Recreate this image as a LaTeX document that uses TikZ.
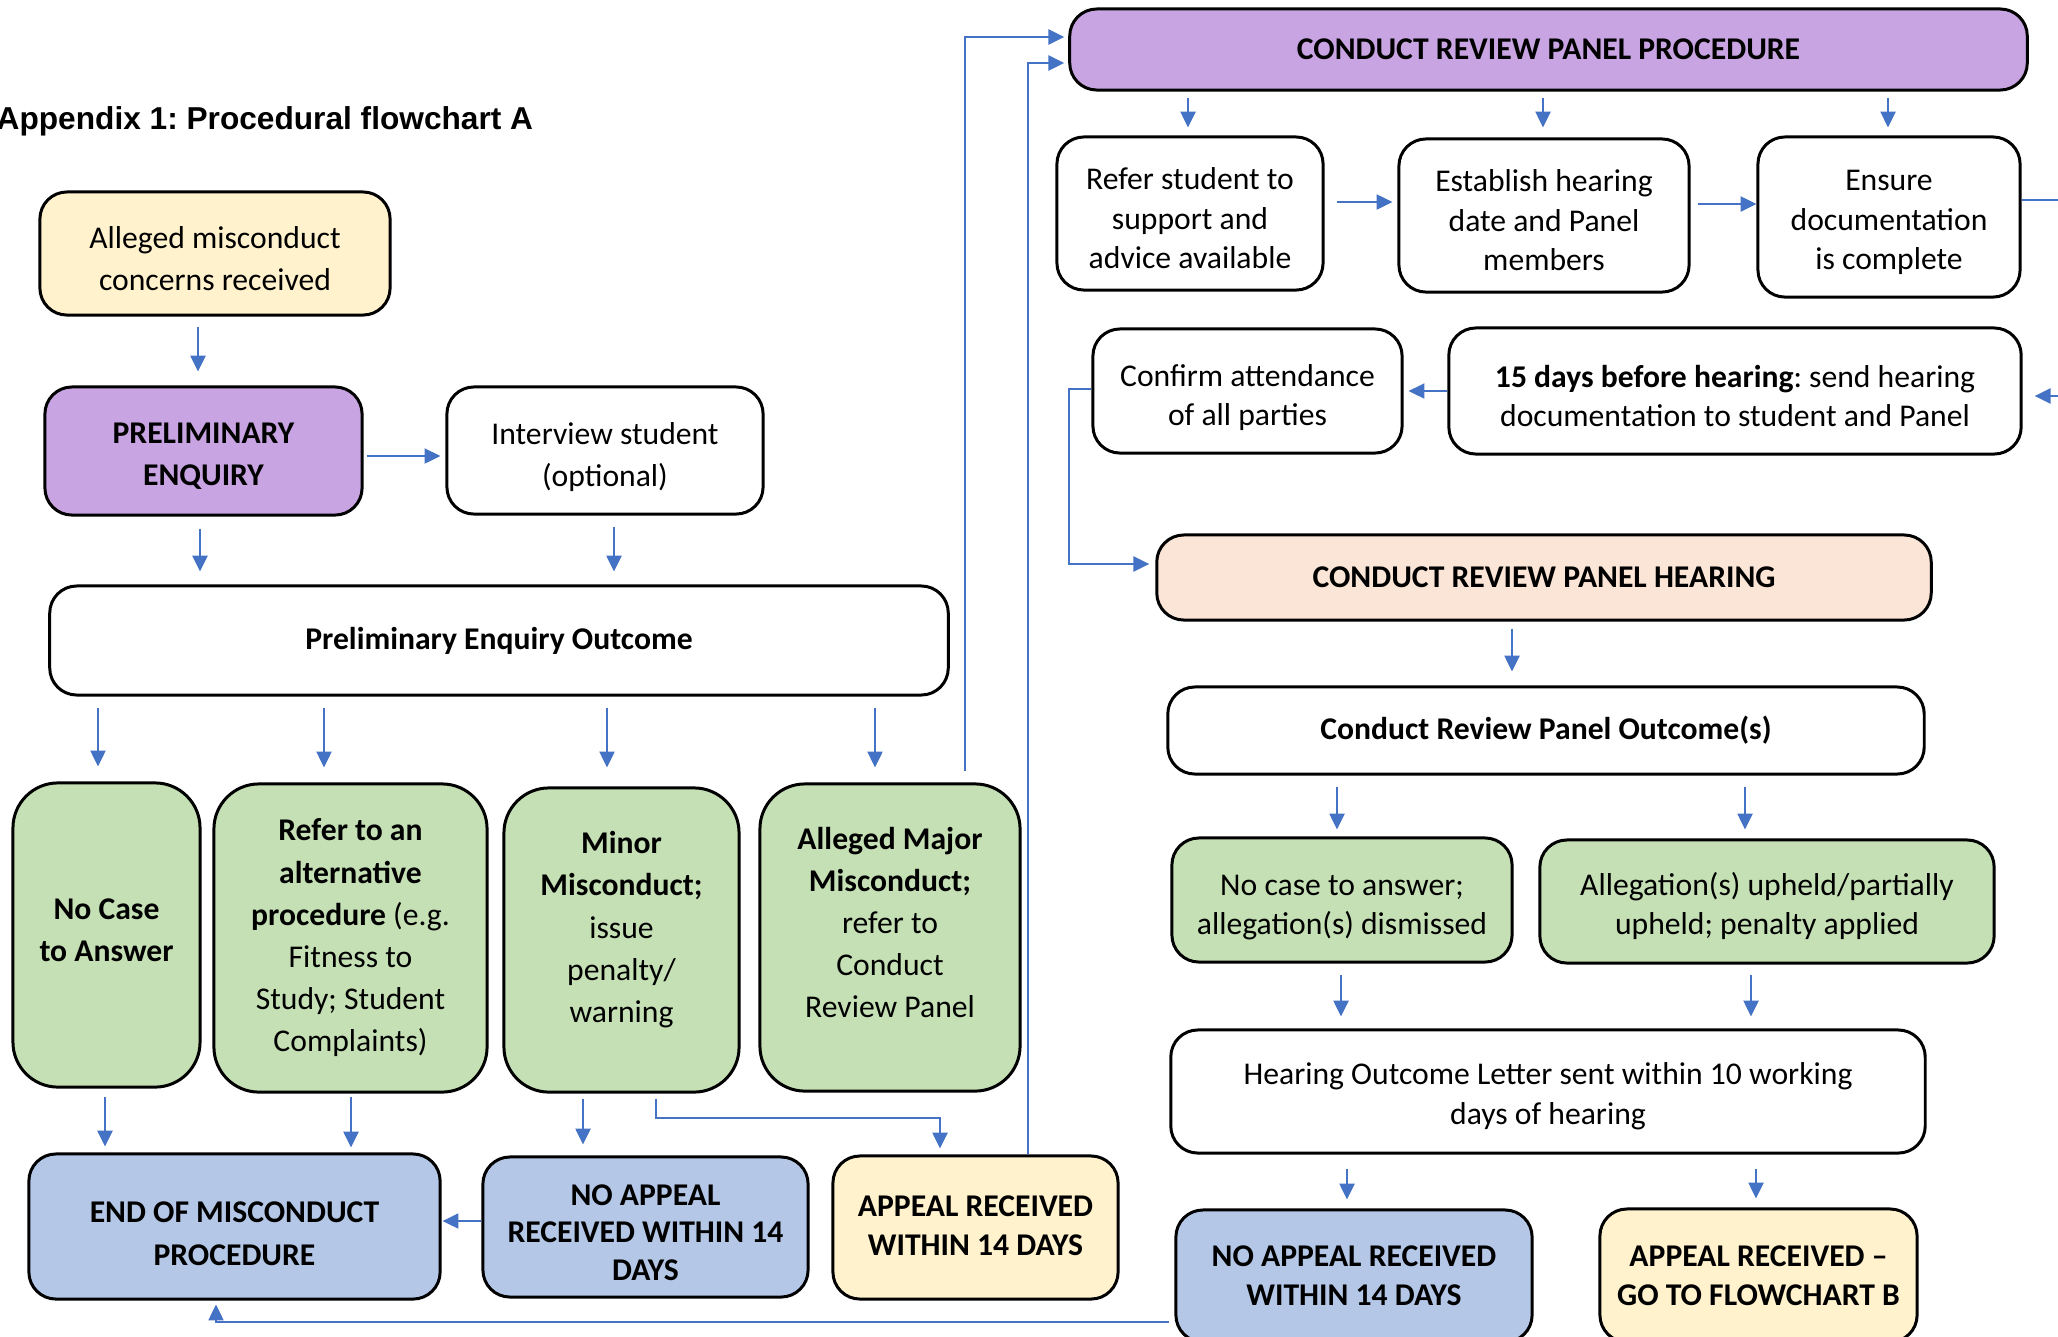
\documentclass[tikz,border=0pt]{standalone}
\usepackage{fontspec}
\setmainfont{Carlito}
\newfontfamily\titlefont{Liberation Sans}
\usetikzlibrary{arrows.meta}
\definecolor{cyel}{HTML}{FFF2CC}
\definecolor{cpur}{HTML}{C8A4E2}
\definecolor{cgrn}{HTML}{C5E0B4}
\definecolor{cblu}{HTML}{B4C7E7}
\definecolor{cpch}{HTML}{FBE5D6}
\definecolor{carr}{HTML}{4472C4}
\newcommand\tu{\rule{0pt}{9pt}}
\newcommand\dn[1]{\rule[-#1]{0pt}{0pt}}
\frenchspacing
\begin{document}
\begin{tikzpicture}[x=0.01cm,y=-0.01cm,
  bx/.style={draw=black, line width=0.85pt, rounded corners=0.27cm, align=center, inner sep=0pt, fill=white,
    font=\fontsize{9}{12}\selectfont},
  rt/.style={font=\fontsize{9}{11.2}\selectfont},
  tall/.style={rounded corners=0.45cm},
  bf/.style={font=\fontsize{9}{12}\selectfont\bfseries},
  arr/.style={draw=carr, line width=0.5pt, -{Triangle[length=4.5pt,width=4.3pt]}},
  gap/.style 2 args={shorten <=#1*0.01cm, shorten >=#2*0.01cm}
]
\useasboundingbox (0,0) rectangle (2058,1336);

% title
\node[anchor=west, inner sep=0pt, font=\titlefont\bfseries\fontsize{9}{11}\selectfont] (title) at (-4,121) {Appendix 1: Procedural flowchart A};

% left column
\node[bx, fill=cyel, minimum width=3.50cm, minimum height=1.23cm] (al) at (215,253.5) {\tu Alleged misconduct\\concerns received};
\node[bx, bf, fill=cpur, minimum width=3.17cm, minimum height=1.28cm] (pe) at (203.5,451) {\tu PRELIMINARY\\ENQUIRY};
\node[bx, minimum width=3.16cm, minimum height=1.27cm] (iv) at (605,450.5) {\rule{0pt}{10pt}Interview student\\(optional)};
\node[bx, bf, minimum width=8.98cm, minimum height=1.09cm] (peo) at (499,640.5) {Preliminary Enquiry Outcome};

\node[bx, tall, bf, fill=cgrn, minimum width=1.87cm, minimum height=3.04cm] (nc) at (106.5,935) {No Case\\to Answer\dn{3pt}};
\node[bx, tall, fill=cgrn, minimum width=2.73cm, minimum height=3.08cm] (ra) at (350.5,938) {\textbf{Refer to an}\\\textbf{alternative}\\\textbf{procedure} (e.g.\\Fitness to\\Study; Student\\Complaints)};
\node[bx, tall, fill=cgrn, minimum width=2.35cm, minimum height=3.04cm] (mm) at (621.5,940) {\textbf{Minor}\\\textbf{Misconduct;}\\issue\\penalty/\\warning\dn{7.4pt}};
\node[bx, tall, fill=cgrn, minimum width=2.60cm, minimum height=3.07cm] (am) at (890,937.5) {\textbf{Alleged Major}\\\textbf{Misconduct;}\\refer to\\Conduct\\Review Panel\dn{8.6pt}};

\node[bx, bf, fill=cblu, minimum width=4.11cm, minimum height=1.45cm] (end) at (234.5,1226.5) {\rule{0pt}{10pt}END OF MISCONDUCT\\PROCEDURE};
\node[bx, fill=cblu, font=\fontsize{9}{10.6}\selectfont\bfseries, minimum width=3.25cm, minimum height=1.40cm] (na) at (645.5,1227) {\tu NO APPEAL\\RECEIVED WITHIN 14\\DAYS};
\node[bx, fill=cyel, font=\fontsize{9}{11.2}\selectfont\bfseries, minimum width=2.85cm, minimum height=1.43cm] (ar) at (975.5,1227.5) {APPEAL RECEIVED\\WITHIN 14 DAYS\dn{1pt}};

% right column
\node[bx, fill=cpur, font=\fontsize{9}{11.2}\selectfont\bfseries, minimum width=9.57cm, minimum height=0.81cm] (crp) at (1548.5,49.5) {CONDUCT REVIEW PANEL PROCEDURE};
\node[bx, rt, minimum width=2.66cm, minimum height=1.53cm] (rs) at (1190,213.5) {\tu Refer student to\\support and\\advice available};
\node[bx, rt, minimum width=2.90cm, minimum height=1.53cm] (eh) at (1544,215.5) {\tu Establish hearing\\date and Panel\\members};
\node[bx, rt, minimum width=2.62cm, minimum height=1.60cm] (ed) at (1889,217) {\tu Ensure\\documentation\\is complete};
\node[bx, rt, minimum width=5.72cm, minimum height=1.26cm] (fd) at (1735,391) {\tu\textbf{15 days before hearing}: send hearing\\documentation to student and Panel};
\node[bx, rt, minimum width=3.09cm, minimum height=1.24cm] (ca) at (1247.5,391) {\rule{0pt}{10pt}Confirm attendance\\of all parties};
\node[bx, fill=cpch, font=\fontsize{9}{11.2}\selectfont\bfseries, minimum width=7.74cm, minimum height=0.85cm] (crh) at (1544,577.5) {CONDUCT REVIEW PANEL HEARING};
\node[bx, font=\fontsize{9}{11.2}\selectfont\bfseries, minimum width=7.56cm, minimum height=0.87cm] (cro) at (1546,730.5) {Conduct Review Panel Outcome(s)};
\node[bx, rt, fill=cgrn, minimum width=3.40cm, minimum height=1.24cm] (ncd) at (1342,900) {\rule{0pt}{10pt}No case to answer;\\allegation(s) dismissed};
\node[bx, rt, fill=cgrn, minimum width=4.54cm, minimum height=1.23cm] (au) at (1767,901.5) {\tu Allegation(s) upheld/partially\\upheld; penalty applied};
\node[bx, rt, minimum width=7.54cm, minimum height=1.23cm] (hol) at (1548,1091.5) {\tu Hearing Outcome Letter sent within 10 working\\days of hearing};
\node[bx, fill=cblu, font=\fontsize{9}{11.2}\selectfont\bfseries, minimum width=3.56cm, minimum height=1.32cm] (nar) at (1354,1276) {NO APPEAL RECEIVED\\WITHIN 14 DAYS};
\node[bx, fill=cyel, font=\fontsize{9}{11.2}\selectfont\bfseries, minimum width=3.17cm, minimum height=1.33cm] (arb) at (1758.5,1275.5) {APPEAL RECEIVED --\\GO TO FLOWCHART B};

% connectors left
\draw[arr, gap={10}{14}] (al.south -| 198,0) -- (pe.north -| 198,0);
\draw[arr, gap={3}{5}] (pe.east |- 0,456) -- (iv.west |- 0,456);
\draw[arr, gap={12}{13}] (pe.south -| 200,0) -- (peo.north -| 200,0);
\draw[arr, gap={11}{13}] (iv.south -| 614,0) -- (peo.north -| 614,0);
\draw[arr, gap={11}{15}] (peo.south -| 98,0) -- (nc.north -| 98,0);
\draw[arr, gap={11}{15}] (peo.south -| 324,0) -- (ra.north -| 324,0);
\draw[arr, gap={11}{19}] (peo.south -| 607,0) -- (mm.north -| 607,0);
\draw[arr, gap={11}{15}] (peo.south -| 875,0) -- (am.north -| 875,0);
\draw[arr, gap={8}{6}] (nc.south -| 105,0) -- (end.north -| 105,0);
\draw[arr, gap={3}{5}] (ra.south -| 351,0) -- (end.north -| 351,0);
\draw[arr, gap={5}{11}] (mm.south -| 583,0) -- (na.north -| 583,0);
\draw[arr, gap={5}{6}] (mm.south -| 656,0) -- (656,1118) -- (940,1118) -- (ar.north -| 940,0);
\draw[arr, gap={0}{1}] (na.west |- 0,1221) -- (end.east |- 0,1221);
\draw[arr, gap={11}{4}] (am.north -| 965,0) -- (965,37) -- (crp.west |- 0,37);
\draw[arr, gap={0}{4}] (ar.north -| 1028,0) -- (1028,63) -- (crp.west |- 0,63);
\draw[arr, gap={5}{4}] (nar.west |- 0,1322) -- (216,1322) -- (end.south -| 216,0);

% connectors right
\draw[arr, gap={6}{8}] (crp.south -| 1188,0) -- (rs.north -| 1188,0);
\draw[arr, gap={6}{10}] (crp.south -| 1543,0) -- (eh.north -| 1543,0);
\draw[arr, gap={6}{8}] (crp.south -| 1888,0) -- (ed.north -| 1888,0);
\draw[arr, gap={12}{5}] (rs.east |- 0,202) -- (eh.west |- 0,202);
\draw[arr, gap={7}{0}] (eh.east |- 0,204) -- (ed.west |- 0,204);
\draw[arr, gap={0}{12}] (ed.east |- 0,200) -- (2090,200) -- (2090,396) -- (fd.east |- 0,396);
\draw[arr, gap={0}{5}] (fd.west |- 0,391) -- (ca.east |- 0,391);
\draw[arr, gap={0}{6}] (ca.west |- 0,389) -- (1069,389) -- (1069,564) -- (crh.west |- 0,564);
\draw[arr, gap={7}{14}] (crh.south -| 1512,0) -- (cro.north -| 1512,0);
\draw[arr, gap={11}{7}] (cro.south -| 1337,0) -- (ncd.north -| 1337,0);
\draw[arr, gap={11}{9}] (cro.south -| 1745,0) -- (au.north -| 1745,0);
\draw[arr, gap={11}{12}] (ncd.south -| 1341,0) -- (hol.north -| 1341,0);
\draw[arr, gap={10}{12}] (au.south -| 1751,0) -- (hol.north -| 1751,0);
\draw[arr, gap={14}{9}] (hol.south -| 1347,0) -- (nar.north -| 1347,0);
\draw[arr, gap={14}{9}] (hol.south -| 1756,0) -- (arb.north -| 1756,0);
\end{tikzpicture}
\end{document}
